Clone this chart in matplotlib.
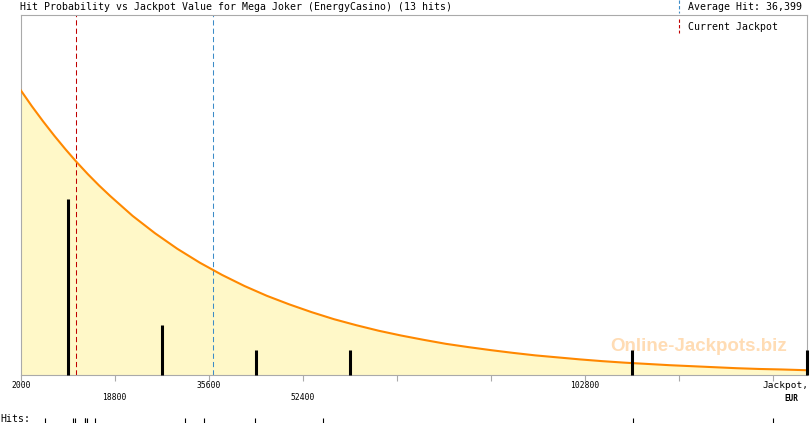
import numpy as np
import matplotlib
matplotlib.use("Agg")
import matplotlib.pyplot as plt
from matplotlib.lines import Line2D

W, H = 810, 425

# jackpot values of the 13 recorded hits (EUR)
hits = [6400, 11300, 11750, 13550, 13550, 13900, 15200,
        31300, 34750, 43900, 56000, 111500, 136500]
average_hit = 36399
current_jackpot = 11850

# fitted hit probability curve (in "hits" units)
curve_x = [2000, 4000, 6000, 8000, 10000, 12000, 14000, 16000, 18000, 22000,
           26000, 30000, 34000, 38000, 42000, 46000, 50000, 54000, 58000,
           62000, 66000, 70000, 74000, 78000, 82000, 86000, 90000, 94000,
           98000, 102000, 106000, 110000, 114000, 118000, 122000, 126000,
           130000, 134000, 138000, 142500]
curve_y = [11.33, 10.69, 10.09, 9.52, 8.98, 8.47, 7.99, 7.54, 7.12, 6.33,
           5.64, 5.02, 4.47, 3.98, 3.54, 3.15, 2.81, 2.50, 2.22,
           1.98, 1.76, 1.57, 1.40, 1.24, 1.11, 0.99, 0.88, 0.78,
           0.70, 0.62, 0.55, 0.49, 0.44, 0.39, 0.35, 0.31,
           0.27, 0.24, 0.22, 0.19]

x_min, x_max = 2000, 142500
bin_width = 16800
tick_vals = [2000, 18800, 35600, 52400, 69200, 86000, 102800, 119600, 136400]
tick_labels = ['2000', '18800', '35600', '52400', '', '', '102800', '', '']
tick_row = [0, 1, 0, 1, 0, 0, 0, 0, 0]  # 0 = upper row, 1 = lower row

grey = '#aaaaaa'
orange = '#ff8800'
fill = '#fff8c8'
red = '#c00000'
blue = '#3c8cc8'
mono = 'DejaVu Sans Mono'


def fx(px):
    return px / W


def fy(py):
    return 1 - py / H


fig = plt.figure(figsize=(W / 100, H / 100), dpi=100)
ax = fig.add_axes([fx(20.7), fy(375), (806.7 - 20.7) / W, 360 / H])

ax.fill_between(curve_x, curve_y, 0, color=fill, lw=0, zorder=1)
ax.plot(curve_x, curve_y, color=orange, lw=1.5, zorder=3)

# histogram of hits
edges = np.arange(x_min, x_max + bin_width * 2, bin_width)
counts, edges = np.histogram(hits, bins=edges)
centers = (edges[:-1] + edges[1:]) / 2
for c, n in zip(centers, counts):
    if n > 0:
        ax.vlines(min(c, x_max), 0, n, color='black', lw=2.2, zorder=4, clip_on=False)

ax.axvline(current_jackpot, color=red, lw=0.75, ls=(0, (5, 3)), zorder=2)
ax.axvline(average_hit, color=blue, lw=0.75, ls=(0, (5, 3)), zorder=2)

ax.text(0.863, 0.078, 'Online-Jackpots.biz', transform=ax.transAxes,
        fontsize=13.5, fontweight='bold', family='Liberation Sans',
        color='#ffdcb4', ha='center', va='center', zorder=2)

ax.set_xlim(x_min, x_max)
ax.set_ylim(0, 14.32)
for s in ax.spines.values():
    s.set_color(grey)
    s.set_linewidth(0.8)
ax.set_yticks([])
ax.set_xticks(tick_vals)
ax.set_xticklabels([])
ax.tick_params(axis='x', length=4, width=0.8, color=grey)

for v, lab, row in zip(tick_vals, tick_labels, tick_row):
    ypx = 385.5 if row == 0 else 398
    ax.text(v, (375 - ypx) / 360, lab, transform=ax.get_xaxis_transform(),
            ha='center', va='center', fontsize=5.8, family=mono)

fig.text(fx(808), fy(386), 'Jackpot,', ha='right', va='center', fontsize=6.8, family=mono)
fig.text(fx(798), fy(398.5), 'EUR', ha='right', va='center', fontsize=5.5,
         family=mono, fontweight='bold')

# title and legend
fig.text(fx(20), fy(7.5), 'Hit Probability vs Jackpot Value for Mega Joker (EnergyCasino) (13 hits)',
         ha='left', va='center', fontsize=7.1, family=mono)
fig.text(fx(688), fy(7.5), 'Average Hit: 36,399', ha='left', va='center', fontsize=7.1, family=mono)
fig.text(fx(688), fy(27), 'Current Jackpot', ha='left', va='center', fontsize=7.1, family=mono)
fig.add_artist(Line2D([fx(678.5)] * 2, [fy(0), fy(13)], color=blue, lw=0.8,
                      ls=(0, (3, 2))))
fig.add_artist(Line2D([fx(678.5)] * 2, [fy(19), fy(33)], color=red, lw=0.8,
                      ls=(0, (3, 2))))

# hits strip
fig.text(fx(0), fy(419), 'Hits:', ha='left', va='center', fontsize=7.1, family=mono)
ax2 = fig.add_axes([fx(20.7), fy(423), (806.7 - 20.7) / W, 5 / H])
ax2.set_xlim(x_min, x_max)
ax2.set_ylim(0, 1)
ax2.vlines(hits, 0, 1, color='black', lw=0.8)
ax2.axis('off')

fig.savefig('out.png', dpi=100)
